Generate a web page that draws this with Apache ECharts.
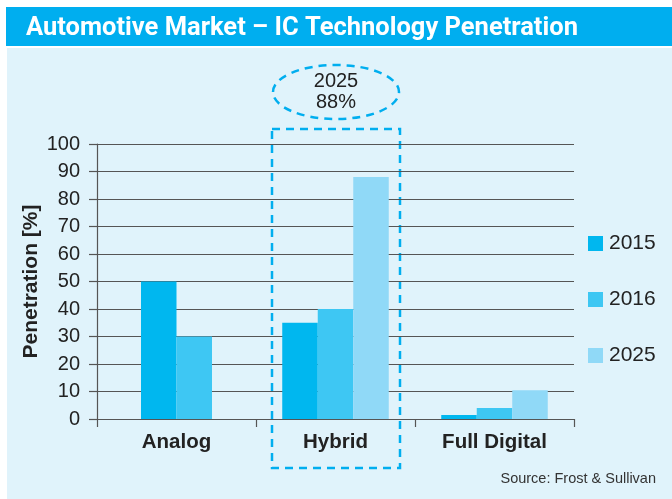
<!DOCTYPE html>
<html>
<head>
<meta charset="utf-8">
<script src="https://cdn.jsdelivr.net/npm/echarts@6/dist/echarts.min.js"></script>
<style>
html, body { margin: 0; padding: 0; background: #fff; }
#chart { width: 672px; height: 499px; }
</style>
</head>
<body>
<div id="chart"></div>
<script>
var categories = ['Analog', 'Hybrid', 'Full Digital']
var years = ['2015', '2016', '2025']
var values2015 = [50, 35, 1.5]
var values2016 = [30, 40, 4]
var values2025 = [null, 88, 10.5]
var yMin = 0, yMax = 100, yStep = 10
var highlightCategory = 'Hybrid'
var highlightLabel = '2025\n88%'

var colors = ['#00b7ef', '#3ec7f3', '#90d9f7']
var font = '"Liberation Sans", Arial, sans-serif'

// categories without a 2025 value get their two bars centred on a second, hidden axis
var twoBars = values2025.map(function (v) { return v == null })
function only(arr, keep) {
    return arr.map(function (v, i) { return twoBars[i] === keep ? v : null })
}

var chart = echarts.init(document.getElementById('chart'))

var barBase = { type: 'bar', barGap: 0, barWidth: '22.33%' }
var series = [
    Object.assign({ name: years[0], xAxisIndex: 0, data: only(values2015, false), itemStyle: { color: colors[0] } }, barBase),
    Object.assign({ name: years[1], xAxisIndex: 0, data: only(values2016, false), itemStyle: { color: colors[1] } }, barBase),
    Object.assign({ name: years[2], xAxisIndex: 0, data: values2025, itemStyle: { color: colors[2] } }, barBase),
    Object.assign({ name: years[0], xAxisIndex: 1, data: only(values2015, true), itemStyle: { color: colors[0] } }, barBase),
    Object.assign({ name: years[1], xAxisIndex: 1, data: only(values2016, true), itemStyle: { color: colors[1] } }, barBase)
]

var axisColor = '#555'
var option = {
    animation: false,
    textStyle: { fontFamily: font },
    graphic: [
        { id: 'panel', type: 'rect', z: -10, shape: { x: 7, y: 48, width: 665, height: 451 }, style: { fill: '#e0f3fb' } },
        { id: 'bar', type: 'rect', z: -10, shape: { x: 6, y: 7, width: 666, height: 39 }, style: { fill: '#00aeef' } },
        {
            id: 'title', type: 'text', left: 26, top: 16,
            style: { text: 'Automotive Market – IC Technology Penetration', fill: '#fff', font: 'bold 25.5px Roboto' }
        },
        {
            id: 'source', type: 'text', right: 16, top: 471,
            style: { text: 'Source: Frost & Sullivan', fill: '#333', font: '14.5px "Liberation Sans"' }
        }
    ],
    grid: {
        left: 97,
        right: 98,
        top: 144,
        bottom: 80
    },
    legend: {
        orient: 'vertical',
        left: 583,
        top: 228,
        itemWidth: 15,
        itemHeight: 15,
        itemGap: 35,
        icon: 'rect',
        textStyle: { fontSize: 21, color: '#222', fontFamily: font, padding: [0, 0, 0, 1] },
        data: years
    },
    xAxis: [{
        type: 'category',
        data: categories,
        axisLine: { lineStyle: { color: axisColor, width: 1.2 } },
        axisTick: { show: true, length: 8, lineStyle: { color: axisColor, width: 1.2 } },
        axisLabel: { fontSize: 20.5, fontWeight: 'bold', color: '#222', margin: 13 }
    }, {
        type: 'category',
        data: categories,
        show: false
    }],
    yAxis: {
        type: 'value',
        min: yMin,
        max: yMax,
        interval: yStep,
        name: 'Penetration [%]',
        nameLocation: 'middle',
        nameGap: 66,
        nameMoveOverlap: false,
        nameTextStyle: { fontSize: 21, fontWeight: 'bold', color: '#222', verticalAlign: 'middle' },
        axisLine: { show: true, lineStyle: { color: axisColor, width: 1.2 } },
        axisTick: { show: true, length: 8, lineStyle: { color: axisColor, width: 1.2 } },
        axisLabel: { fontSize: 20, color: '#222', margin: 17 },
        splitLine: { lineStyle: { color: axisColor, width: 1.2 } }
    },
    series: series
}
chart.setOption(option)

// dashed box around the highlighted category, with the callout above it
var cx = chart.convertToPixel({ xAxisIndex: 0 }, highlightCategory)
var yTop = chart.convertToPixel({ yAxisIndex: 0 }, yMax)
var dash = { stroke: '#00aeef', lineWidth: 2.5, lineDash: [8, 6], fill: 'none' }
chart.setOption({
    graphic: [
        { id: 'box', type: 'rect', shape: { x: cx - 63.5, y: yTop - 15, width: 128, height: 339 }, style: dash },
        { id: 'ring', type: 'ellipse', shape: { cx: cx + 0.5, cy: yTop - 52, rx: 63, ry: 27 }, style: dash },
        {
            id: 'callout', type: 'text', x: cx + 0.5, y: yTop - 52,
            style: { text: highlightLabel, fill: '#222', font: '20px "Liberation Sans"', lineHeight: 21, align: 'center', verticalAlign: 'middle' }
        }
    ]
})
</script>
</body>
</html>
